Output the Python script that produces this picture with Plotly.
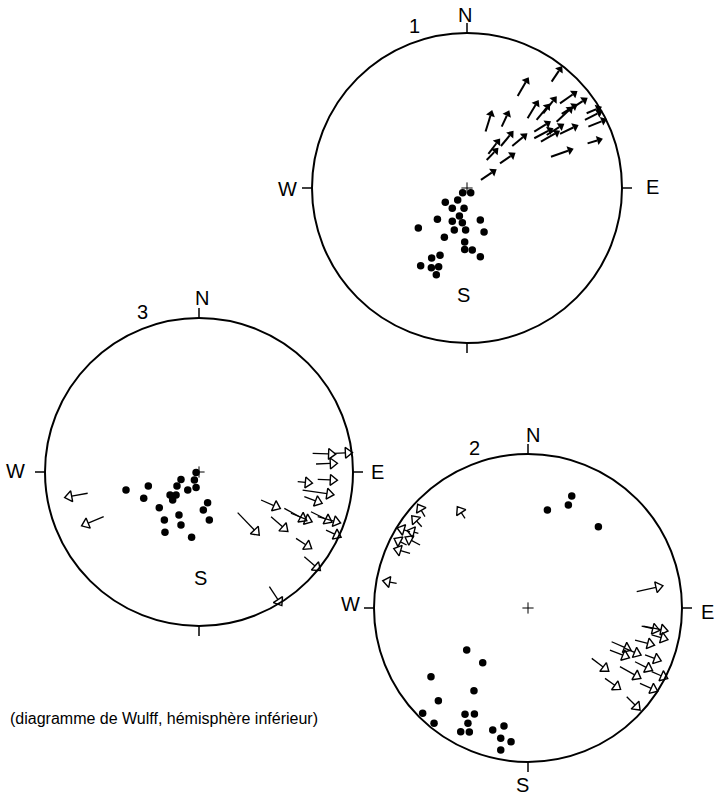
import numpy as np
import plotly.graph_objects as go

# Wulff nets: poles (dots) and slip vectors (arrows) for three sites.
# Coordinates are in net-radius units: e = east, n = north (centre = 0, 0).

NET1_POLES = [
    (-0.028, -0.030), (0.024, -0.030), (-0.140, -0.092), (-0.060, -0.077),
    (-0.095, -0.131), (-0.019, -0.131), (-0.191, -0.202), (-0.049, -0.181),
    (-0.095, -0.215), (-0.030, -0.224), (0.086, -0.206), (-0.314, -0.258),
    (-0.082, -0.271), (-0.009, -0.271), (0.110, -0.284), (-0.146, -0.318),
    (-0.015, -0.348), (-0.015, -0.396), (0.034, -0.400), (0.086, -0.443),
    (-0.228, -0.452), (-0.174, -0.434), (-0.299, -0.501), (-0.230, -0.514),
    (-0.183, -0.508), (-0.198, -0.559),
]

# (tail e, tail n, head e, head n)
NET1_ARROWS = [
    (0.090, 0.052, 0.170, 0.106), (0.127, 0.181, 0.185, 0.241),
    (0.138, 0.220, 0.198, 0.299), (0.213, 0.159, 0.292, 0.213),
    (0.219, 0.271, 0.284, 0.349), (0.292, 0.271, 0.370, 0.336),
    (0.120, 0.364, 0.155, 0.478), (0.224, 0.396, 0.262, 0.478),
    (0.327, 0.594, 0.385, 0.693), (0.546, 0.686, 0.600, 0.766),
    (0.391, 0.450, 0.449, 0.546), (0.449, 0.439, 0.520, 0.525),
    (0.492, 0.482, 0.563, 0.572), (0.600, 0.546, 0.692, 0.611),
    (0.675, 0.514, 0.757, 0.568), (0.578, 0.428, 0.665, 0.508),
    (0.611, 0.478, 0.692, 0.529), (0.434, 0.364, 0.520, 0.417),
    (0.434, 0.321, 0.535, 0.374), (0.477, 0.299, 0.578, 0.357),
    (0.514, 0.342, 0.606, 0.400), (0.600, 0.349, 0.697, 0.396),
    (0.542, 0.202, 0.664, 0.245), (0.761, 0.439, 0.852, 0.486),
    (0.772, 0.482, 0.847, 0.514), (0.783, 0.396, 0.880, 0.435),
    (0.778, 0.288, 0.852, 0.310),
]

NET3_POLES = [
    (-0.474, -0.117), (-0.329, -0.091), (-0.359, -0.171), (-0.117, -0.048),
    (-0.143, -0.091), (-0.030, -0.052), (-0.019, -0.004), (-0.073, -0.117),
    (-0.019, -0.100), (-0.188, -0.149), (-0.149, -0.149), (-0.171, -0.182),
    (-0.258, -0.232), (0.056, -0.199), (0.028, -0.247), (-0.225, -0.312),
    (-0.130, -0.279), (-0.117, -0.344), (0.067, -0.312), (-0.221, -0.392),
    (-0.048, -0.424),
]

NET3_ARROWS = [
    (-0.723, -0.138, -0.842, -0.160), (-0.619, -0.290, -0.734, -0.338),
    (0.251, -0.264, 0.370, -0.388),
    (0.738, 0.121, 0.857, 0.117), (0.879, 0.121, 0.966, 0.125),
    (0.760, 0.052, 0.868, 0.056), (0.641, -0.063, 0.706, -0.069),
    (0.771, -0.048, 0.868, -0.052), (0.673, -0.117, 0.846, -0.143),
    (0.684, -0.160, 0.771, -0.193), (0.403, -0.182, 0.500, -0.225),
    (0.468, -0.290, 0.554, -0.366), (0.554, -0.236, 0.673, -0.301),
    (0.597, -0.268, 0.706, -0.312), (0.727, -0.258, 0.836, -0.312),
    (0.771, -0.290, 0.890, -0.323), (0.825, -0.377, 0.895, -0.410),
    (0.630, -0.431, 0.706, -0.481), (0.684, -0.550, 0.765, -0.620),
    (0.457, -0.745, 0.521, -0.842),
]

NET2_POLES = [
    (0.284, 0.727), (0.262, 0.669), (0.126, 0.636), (0.457, 0.528),
    (-0.398, -0.273), (-0.294, -0.355), (-0.630, -0.446), (-0.351, -0.537),
    (-0.582, -0.602), (-0.684, -0.684), (-0.610, -0.749), (-0.409, -0.690),
    (-0.348, -0.688), (-0.390, -0.749), (-0.437, -0.803), (-0.381, -0.805),
    (-0.229, -0.792), (-0.156, -0.766), (-0.177, -0.846), (-0.110, -0.868),
    (-0.177, -0.922),
]

NET2_ARROWS = [
    (-0.853, 0.160, -0.913, 0.171), (-0.669, 0.593, -0.701, 0.647),
    (-0.690, 0.528, -0.734, 0.576), (-0.701, 0.409, -0.771, 0.446),
    (-0.766, 0.495, -0.820, 0.511), (-0.712, 0.485, -0.755, 0.496),
    (-0.788, 0.409, -0.842, 0.437), (-0.766, 0.355, -0.842, 0.377),
    (-0.409, 0.582, -0.442, 0.632),
    (0.706, 0.106, 0.846, 0.138), (0.738, -0.117, 0.825, -0.138),
    (0.749, -0.117, 0.879, -0.143), (0.803, -0.175, 0.879, -0.197),
    (0.695, -0.208, 0.792, -0.234), (0.543, -0.219, 0.641, -0.262),
    (0.532, -0.273, 0.630, -0.312), (0.630, -0.262, 0.706, -0.294),
    (0.760, -0.305, 0.836, -0.333), (0.414, -0.327, 0.500, -0.392),
    (0.695, -0.349, 0.781, -0.392), (0.597, -0.381, 0.706, -0.442),
    (0.803, -0.413, 0.879, -0.446), (0.500, -0.457, 0.576, -0.511),
    (0.727, -0.489, 0.814, -0.528), (0.641, -0.576, 0.706, -0.641),
]

CAPTION = "(diagramme de Wulff, hémisphère inférieur)"

# ---- page layout (pixels) ----
W, H = 724, 796
FONT = "Liberation Sans, Arial, sans-serif"

NETS = {
    "1": dict(c=(467, 188), r=155, poles=NET1_POLES, arrows=NET1_ARROWS, open_heads=False,
              labels={"N": (465, 15), "1": (414, 26), "E": (652, 187), "W": (287, 189), "S": (463, 295)}),
    "3": dict(c=(199, 472), r=154, poles=NET3_POLES, arrows=NET3_ARROWS, open_heads=True,
              labels={"N": (202, 298), "3": (142, 312), "E": (377, 472), "W": (15, 471), "S": (200, 578)}),
    "2": dict(c=(528, 608), r=154, poles=NET2_POLES, arrows=NET2_ARROWS, open_heads=True,
              labels={"N": (533, 435), "2": (474, 448), "E": (707, 612), "W": (350, 604), "S": (522, 785)}),
}


def to_px(net, e, n):
    cx, cy = net["c"]
    r = net["r"]
    return cx + r * np.asarray(e, float), cy - r * np.asarray(n, float)


fig = go.Figure()
shapes = []
annotations = []

for key, net in NETS.items():
    cx, cy = net["c"]
    r = net["r"]
    # primitive circle
    shapes.append(dict(type="circle", xref="x", yref="y", x0=cx - r, x1=cx + r,
                       y0=cy - r, y1=cy + r, line=dict(color="black", width=2)))
    # cardinal ticks, pointing outward
    for dx, dy in [(0, -1), (1, 0), (0, 1), (-1, 0)]:
        shapes.append(dict(type="line", xref="x", yref="y",
                           x0=cx + dx * r, y0=cy + dy * r,
                           x1=cx + dx * (r + 10), y1=cy + dy * (r + 10),
                           line=dict(color="black", width=1.5)))
    # labels
    for txt, (lx, ly) in net["labels"].items():
        annotations.append(dict(x=lx, y=ly, xref="x", yref="y", text=txt, showarrow=False,
                                font=dict(family=FONT, size=20, color="black"),
                                xanchor="center", yanchor="middle"))

    # centre cross
    fig.add_trace(go.Scatter(x=[cx], y=[cy], mode="markers", hoverinfo="skip",
                             marker=dict(symbol="cross-thin", size=8,
                                         line=dict(color="black", width=1))))

    # poles
    pe, pn = zip(*net["poles"])
    px, py = to_px(net, pe, pn)
    fig.add_trace(go.Scatter(x=px, y=py, mode="markers", hoverinfo="skip",
                             marker=dict(symbol="circle", size=7.5, color="black")))

    # arrows: shaft + rotated triangular head
    a = np.array(net["arrows"], float)
    x0, y0 = to_px(net, a[:, 0], a[:, 1])
    x1, y1 = to_px(net, a[:, 2], a[:, 3])
    dx, dy = x1 - x0, y1 - y0
    length = np.hypot(dx, dy)
    ux, uy = dx / length, dy / length
    angle = np.degrees(np.arctan2(dx, -dy))
    size = 9.5 if net["open_heads"] else 8
    back = size / 4.0  # triangle base sits r/2 behind its centre
    sx, sy = [], []
    for i in range(len(a)):
        sx += [x0[i], x1[i] - ux[i] * back, None]
        sy += [y0[i], y1[i] - uy[i] * back, None]
    fig.add_trace(go.Scatter(x=sx, y=sy, mode="lines", hoverinfo="skip",
                             line=dict(color="black", width=1.3 if net["open_heads"] else 2)))
    if net["open_heads"]:
        head = dict(symbol="triangle-up-open", size=size, color="black", angle=angle,
                    line=dict(color="black", width=1.4))
    else:
        head = dict(symbol="triangle-up", size=size, color="black", angle=angle,
                    line=dict(width=0))
    fig.add_trace(go.Scatter(x=x1, y=y1, mode="markers", hoverinfo="skip", marker=head))

annotations.append(dict(x=8, y=718, xref="x", yref="y", text=CAPTION, showarrow=False,
                        font=dict(family=FONT, size=16, color="black"),
                        xanchor="left", yanchor="middle"))

fig.update_layout(
    width=W, height=H, margin=dict(l=0, r=0, t=0, b=0),
    paper_bgcolor="white", plot_bgcolor="white", showlegend=False,
    shapes=shapes, annotations=annotations,
    xaxis=dict(range=[0, W], visible=False, fixedrange=True),
    yaxis=dict(range=[H, 0], visible=False, fixedrange=True),
)

fig.write_html("out.html")
